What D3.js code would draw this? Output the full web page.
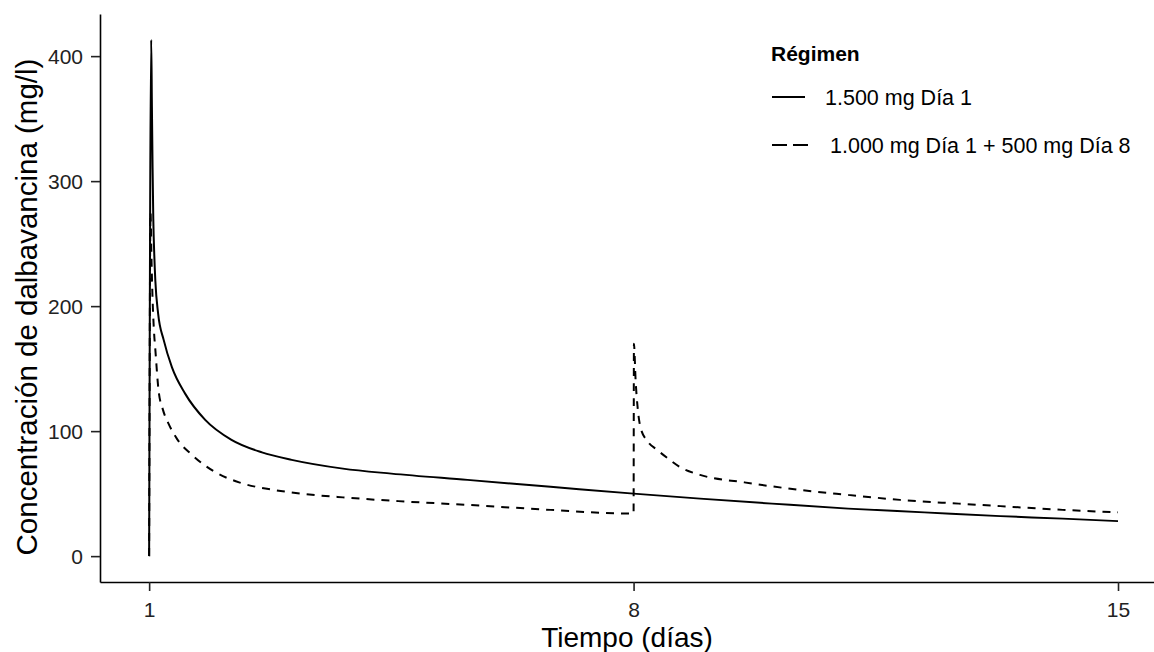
<!DOCTYPE html>
<html>
<head>
<meta charset="utf-8">
<script src="https://cdn.jsdelivr.net/npm/d3@7"></script>
<style>
  body { margin: 0; background: #fff; }
  text { font-family: "Liberation Sans", Arial, sans-serif; }
</style>
</head>
<body>
<svg></svg>
<script>
// Regimen 1: 1.500 mg Dia 1
var solidDays = [1.00, 1.03, 1.04, 1.05, 1.06, 1.075, 1.09, 1.13, 1.21, 1.33, 1.52, 1.81, 2.19, 2.63, 3.06, 3.80, 4.50, 5.60, 6.80, 8.00, 8.96, 10.0, 11.1, 12.2, 13.3, 14.2, 15.0];
var solidConc = [0, 413, 360, 310, 270, 240, 220, 194, 173, 151, 130, 109, 93, 83, 77, 70, 66, 61, 55.5, 50, 46, 42, 38, 35, 32, 30, 28];

// Regimen 2: 1.000 mg Dia 1 + 500 mg Dia 8
var dashedDays = [1.00, 1.02, 1.035, 1.05, 1.07, 1.09, 1.135, 1.20, 1.28, 1.40, 1.62, 1.93, 2.30, 2.80, 3.20, 3.80, 4.60, 5.60, 6.80, 7.95, 8.00, 8.005, 8.03, 8.06, 8.10, 8.20, 8.34, 8.50, 8.68, 8.96, 9.60, 10.4, 11.1, 11.85, 12.7, 13.3, 14.2, 15.0];
var dashedConc = [0, 275, 235, 205, 180, 165, 133, 117, 106, 94, 81, 68, 59, 53, 50, 47, 44, 41, 37, 34, 34, 170, 140, 118, 103, 92, 85, 78, 71, 65, 59, 53, 49, 45, 42, 40, 37, 35];

var xTicks = [1, 8, 15];
var yTicks = [0, 100, 200, 300, 400];
var regimenLabels = ["1.500 mg Día 1", "1.000 mg Día 1 + 500 mg Día 8"];

drawChart();

function drawChart() {
var svgWidth = 1154, svgHeight = 652;
var panel = { left: 100, right: 1154, top: 14, bottom: 582 };

var svg = d3.select("svg")
            .attr("width", svgWidth)
            .attr("height", svgHeight);

var x = d3.scaleLinear()
          .domain([0.29, 15.52])
          .range([panel.left, panel.right]);

var y = d3.scaleLinear()
          .domain([-20.7, 433.7])
          .range([panel.bottom, panel.top]);

var series = [
    { label: regimenLabels[0], dash: null,
      values: solidDays.map(function(d, i) { return { day: d, conc: solidConc[i] }; }) },
    { label: regimenLabels[1], dash: "8,7",
      values: dashedDays.map(function(d, i) { return { day: d, conc: dashedConc[i] }; }) }
];

var line = d3.line()
             .x(function(d) { return x(d.day); })
             .y(function(d) { return y(d.conc); })
             .curve(d3.curveMonotoneX);

// axes
var xAxis = svg.append("g")
   .attr("transform", "translate(0," + panel.bottom + ")")
   .call(d3.axisBottom(x).tickValues(xTicks).tickSize(9).tickSizeOuter(0).tickPadding(6));

var yAxis = svg.append("g")
   .attr("transform", "translate(" + panel.left + ",0)")
   .call(d3.axisLeft(y).tickValues(yTicks).tickSize(9).tickSizeOuter(0).tickPadding(8));

[xAxis, yAxis].forEach(function(ax) {
    ax.attr("font-size", null).attr("font-family", null);
    ax.select(".domain").attr("stroke", "#000").attr("stroke-width", 1.6);
    ax.selectAll(".tick line").attr("stroke", "#222").attr("stroke-width", 1.6);
    ax.selectAll(".tick text")
      .attr("fill", "#222")
      .style("font-size", "21px");
});
xAxis.selectAll(".tick text").attr("dy", "0.95em");
yAxis.selectAll(".tick text").attr("dy", "0.36em");

// lines
svg.selectAll(".curve")
   .data(series)
   .enter()
   .append("path")
   .attr("class", "curve")
   .attr("fill", "none")
   .attr("stroke", "#000")
   .attr("stroke-width", 2)
   .attr("stroke-linejoin", "round")
   .attr("stroke-dasharray", function(d) { return d.dash; })
   .attr("d", function(d) { return line(d.values); });

// axis titles
svg.append("text")
   .attr("x", (panel.left + panel.right) / 2)
   .attr("y", 647)
   .attr("text-anchor", "middle")
   .style("font-size", "28px")
   .text("Tiempo (días)");

svg.append("text")
   .attr("transform", "translate(37,307) rotate(-90)")
   .attr("text-anchor", "middle")
   .style("font-size", "29.5px")
   .text("Concentración de dalbavancina (mg/l)");

// legend
var legend = svg.append("g");

legend.append("text")
      .attr("x", 771)
      .attr("y", 61)
      .style("font-size", "21px")
      .style("font-weight", "bold")
      .text("Régimen");

var keys = [
    { y: 97, x2: 805, tx: 825, ty: 105, dash: null },
    { y: 145, x2: 810, tx: 830, ty: 153, dash: "15,6" }
];

keys.forEach(function(k, i) {
    legend.append("line")
          .attr("x1", 772).attr("x2", k.x2)
          .attr("y1", k.y).attr("y2", k.y)
          .attr("stroke", "#000")
          .attr("stroke-width", 2)
          .attr("stroke-dasharray", k.dash);
    legend.append("text")
          .attr("x", k.tx)
          .attr("y", k.ty)
          .style("font-size", "21.5px")
          .text(series[i].label);
});
}
</script>
</body>
</html>
